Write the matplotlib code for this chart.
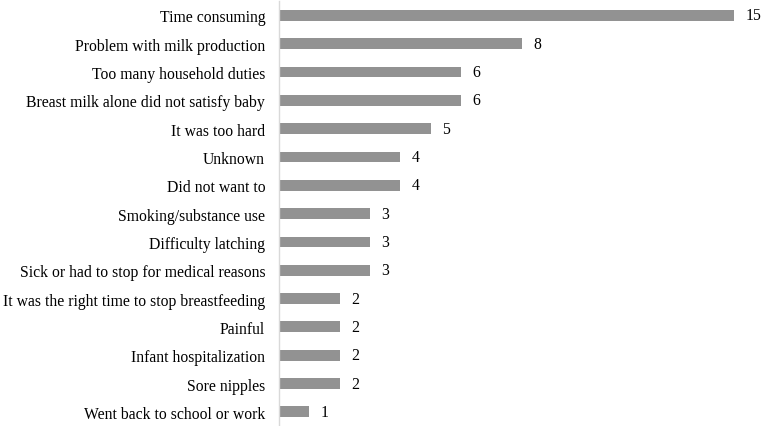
import matplotlib
matplotlib.use("Agg")
import matplotlib.pyplot as plt

categories = [
    "Time consuming",
    "Problem with milk production",
    "Too many household duties",
    "Breast milk alone did not satisfy baby",
    "It was too hard",
    "Unknown",
    "Did not want to",
    "Smoking/substance use",
    "Difficulty latching",
    "Sick or had to stop for medical reasons",
    "It was the right time to stop breastfeeding",
    "Painful",
    "Infant hospitalization",
    "Sore nipples",
    "Went back to school or work",
]
values = [15, 8, 6, 6, 5, 4, 4, 3, 3, 3, 2, 2, 2, 2, 1]

plt.rcParams['font.family'] = ['Liberation Serif', 'DejaVu Serif']

fig = plt.figure(figsize=(7.67, 4.27), dpi=100)
ax = fig.add_axes([0.3638, 0.0, 0.6362, 0.995])

y = list(range(len(categories)))
ax.barh(y, values, height=0.38, color='#929292')
for yi, v in zip(y, values):
    ax.text(v + 0.38, yi, str(v), va='center', ha='left', fontsize=11.3, color='black')

ax.set_yticks(y)
ax.set_yticklabels(categories, fontsize=11.3)
ax.set_ylim(len(categories) - 0.5, -0.5)
ax.set_xlim(0, 16.1)
ax.set_xticks([])
ax.tick_params(axis='y', length=0, pad=10)
for s in ['top', 'right', 'bottom']:
    ax.spines[s].set_visible(False)
ax.spines['left'].set_color('#d9d9d9')
ax.spines['left'].set_linewidth(1.0)

fig.savefig('out.png', dpi=100)
